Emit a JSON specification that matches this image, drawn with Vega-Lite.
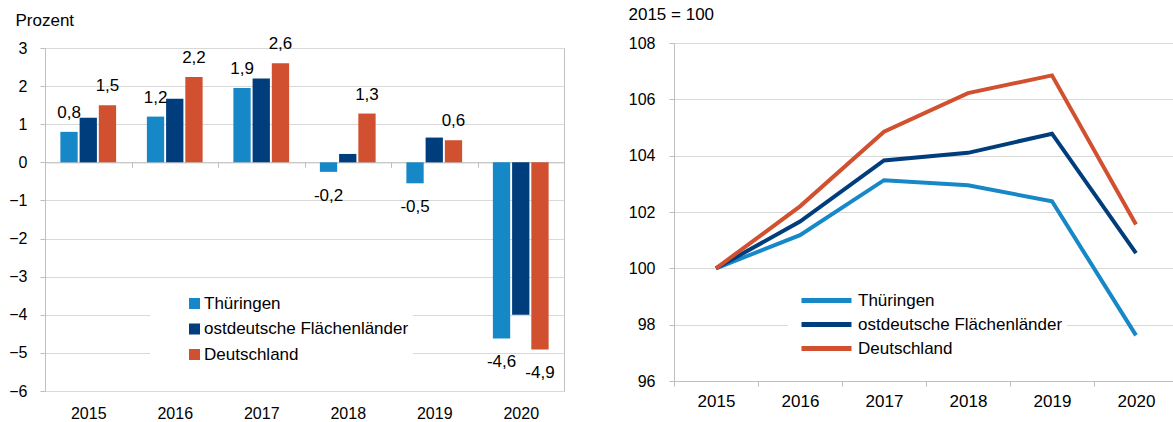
{
  "$schema": "https://vega.github.io/schema/vega-lite/v6.json",
  "padding": {"left": 8, "top": 5, "right": 0, "bottom": 0},
  "background": "white",
  "spacing": 63,
  "config": {
    "font": "Liberation Sans",
    "view": {"stroke": null},
    "axis": {
      "labelFont": "Liberation Sans", "labelFontSize": 16, "labelColor": "#000",
      "titleFont": "Liberation Sans", "titleFontSize": 17, "titleColor": "#000", "titleFontWeight": "normal",
      "gridColor": "#D9D9D9", "gridWidth": 1, "domainColor": "#BFBFBF", "tickColor": "#BFBFBF"
    },
    "legend": {"labelFont": "Liberation Sans", "labelFontSize": 17, "labelColor": "#000", "labelLimit": 500}
  },
  "datasets": {
    "growth": [
      {"year": "2015", "region": "Thüringen", "value": 0.8, "label": "0,8"},
      {"year": "2015", "region": "ostdeutsche Flächenländer", "value": 1.17, "label": null},
      {"year": "2015", "region": "Deutschland", "value": 1.5, "label": "1,5"},
      {"year": "2016", "region": "Thüringen", "value": 1.2, "label": "1,2"},
      {"year": "2016", "region": "ostdeutsche Flächenländer", "value": 1.67, "label": null},
      {"year": "2016", "region": "Deutschland", "value": 2.24, "label": "2,2"},
      {"year": "2017", "region": "Thüringen", "value": 1.95, "label": "1,9"},
      {"year": "2017", "region": "ostdeutsche Flächenländer", "value": 2.2, "label": null},
      {"year": "2017", "region": "Deutschland", "value": 2.6, "label": "2,6"},
      {"year": "2018", "region": "Thüringen", "value": -0.25, "label": "-0,2"},
      {"year": "2018", "region": "ostdeutsche Flächenländer", "value": 0.22, "label": null},
      {"year": "2018", "region": "Deutschland", "value": 1.28, "label": "1,3"},
      {"year": "2019", "region": "Thüringen", "value": -0.55, "label": "-0,5"},
      {"year": "2019", "region": "ostdeutsche Flächenländer", "value": 0.65, "label": null},
      {"year": "2019", "region": "Deutschland", "value": 0.58, "label": "0,6"},
      {"year": "2020", "region": "Thüringen", "value": -4.62, "label": "-4,6"},
      {"year": "2020", "region": "ostdeutsche Flächenländer", "value": -4.0, "label": null},
      {"year": "2020", "region": "Deutschland", "value": -4.91, "label": "-4,9"}
    ],
    "index": [
      {"year": "2015", "region": "Thüringen", "value": 100},
      {"year": "2016", "region": "Thüringen", "value": 101.18},
      {"year": "2017", "region": "Thüringen", "value": 103.13},
      {"year": "2018", "region": "Thüringen", "value": 102.95},
      {"year": "2019", "region": "Thüringen", "value": 102.38},
      {"year": "2020", "region": "Thüringen", "value": 97.62},
      {"year": "2015", "region": "ostdeutsche Flächenländer", "value": 100},
      {"year": "2016", "region": "ostdeutsche Flächenländer", "value": 101.66},
      {"year": "2017", "region": "ostdeutsche Flächenländer", "value": 103.83},
      {"year": "2018", "region": "ostdeutsche Flächenländer", "value": 104.1},
      {"year": "2019", "region": "ostdeutsche Flächenländer", "value": 104.78},
      {"year": "2020", "region": "ostdeutsche Flächenländer", "value": 100.54},
      {"year": "2015", "region": "Deutschland", "value": 100},
      {"year": "2016", "region": "Deutschland", "value": 102.2},
      {"year": "2017", "region": "Deutschland", "value": 104.85},
      {"year": "2018", "region": "Deutschland", "value": 106.22},
      {"year": "2019", "region": "Deutschland", "value": 106.85},
      {"year": "2020", "region": "Deutschland", "value": 101.56}
    ]
  },
  "hconcat": [
    {
      "width": 519,
      "height": 343,
      "view": {"stroke": "#BFBFBF"},
      "data": {"name": "growth"},
      "encoding": {
        "x": {
          "field": "year", "type": "nominal",
          "scale": {"type": "band", "paddingInner": 0, "paddingOuter": 0},
          "axis": {
            "title": null, "labelAngle": 0, "tickBand": "extent", "grid": false,
            "offset": -228.67, "tickSize": 5, "labelPadding": 238, "labelFontSize": 16
          }
        },
        "xOffset": {
          "field": "region", "type": "nominal",
          "scale": {"domain": ["Thüringen", "ostdeutsche Flächenländer", "Deutschland"], "paddingInner": 0.1, "paddingOuter": 0.8}
        },
        "y": {
          "field": "value", "type": "quantitative",
          "scale": {"domain": [-6, 3], "nice": false},
          "axis": {
            "values": [-6, -5, -4, -3, -2, -1, 0, 1, 2, 3],
            "title": "Prozent", "titleAngle": 0, "titleAlign": "left", "titleBaseline": "top",
            "titleX": -30, "titleY": -35.2,
            "tickSize": 5, "labelPadding": 13, "grid": true
          }
        }
      },
      "layer": [
        {
          "mark": {"type": "bar"},
          "encoding": {
            "color": {
              "field": "region", "type": "nominal",
              "scale": {"domain": ["Thüringen", "ostdeutsche Flächenländer", "Deutschland"], "range": ["#1688C8", "#003D7C", "#D0502F"]},
              "legend": {
                "orient": "none", "legendX": 105, "legendY": 243, "title": null,
                "symbolType": "square", "symbolSize": 121, "symbolStrokeWidth": 0,
                "symbolOffset": 32, "labelOffset": 1, "rowPadding": 7.5, "padding": 4,
                "fillColor": "white", "labelExpr": "datum.label + '        '"
              }
            }
          }
        },
        {
          "transform": [{"filter": "datum.label != null && datum.value >= 0"}],
          "mark": {"type": "text", "baseline": "middle", "dy": -19, "fontSize": 17, "color": "#000"},
          "encoding": {"text": {"field": "label"}}
        },
        {
          "transform": [{"filter": "datum.label != null && datum.value < 0"}],
          "mark": {"type": "text", "baseline": "middle", "dy": 24, "fontSize": 17, "color": "#000"},
          "encoding": {"text": {"field": "label"}}
        }
      ]
    },
    {
      "width": 504,
      "height": 333,
      "data": {"name": "index"},
      "mark": {"type": "line", "strokeWidth": 4},
      "encoding": {
        "x": {
          "field": "year", "type": "nominal",
          "scale": {"type": "band", "paddingInner": 0, "paddingOuter": 0},
          "axis": {"title": null, "labelAngle": 0, "tickBand": "extent", "grid": false, "tickSize": 5, "labelPadding": 7, "labelFontSize": 17}
        },
        "y": {
          "field": "value", "type": "quantitative",
          "scale": {"domain": [96, 108], "nice": false, "zero": false, "range": [333, -5]},
          "axis": {
            "values": [96, 98, 100, 102, 104, 106, 108],
            "title": "2015 = 100", "titleAngle": 0, "titleAlign": "left", "titleBaseline": "top",
            "titleX": -46, "titleY": -41.4,
            "tickSize": 5, "labelPadding": 14, "grid": true
          }
        },
        "color": {
          "field": "region", "type": "nominal",
          "scale": {"domain": ["Thüringen", "ostdeutsche Flächenländer", "Deutschland"], "range": ["#1688C8", "#003D7C", "#D0502F"]},
          "legend": {
            "orient": "none", "legendX": 114, "legendY": 236, "title": null,
            "symbolType": "M-2.5,0H2.5", "symbolSize": 400, "symbolStrokeWidth": 5,
            "symbolOffset": 22, "labelOffset": 19, "rowPadding": 1, "padding": 4,
            "fillColor": "white", "labelExpr": "datum.label + '    '"
          }
        }
      }
    }
  ],
  "resolve": {"scale": {"color": "independent"}, "legend": {"color": "independent"}}
}
